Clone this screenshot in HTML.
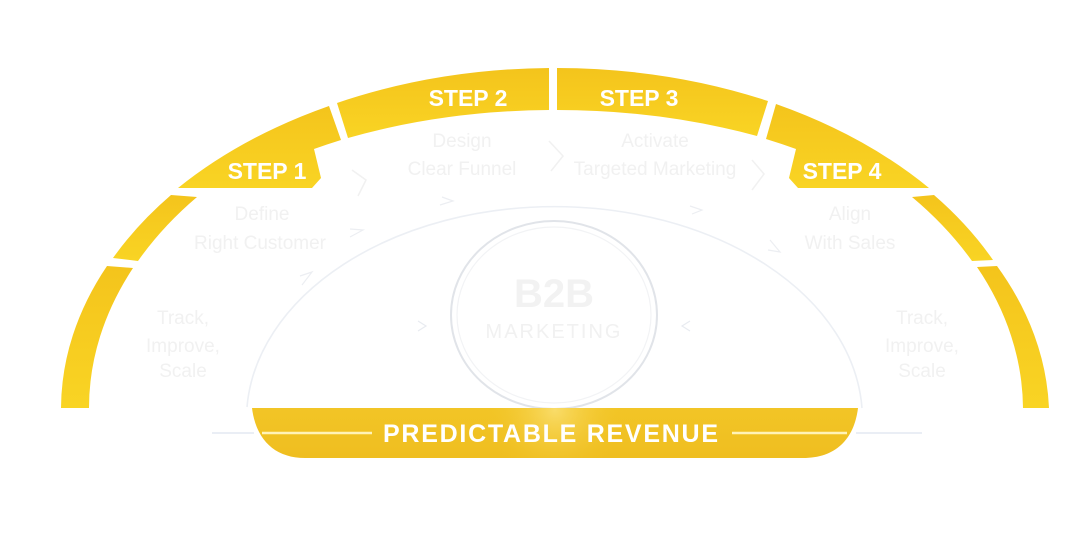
<!DOCTYPE html>
<html>
<head>
<meta charset="utf-8">
<style>
  html,body{margin:0;padding:0;background:#ffffff;}
  body{width:1080px;height:553px;overflow:hidden;}
  svg{display:block;}
  .lbl{font-family:"Liberation Sans",sans-serif;font-weight:bold;fill:#ffffff;}
  .faint{font-family:"Liberation Sans",sans-serif;fill:#f1f1f1;font-size:19px;}
</style>
</head>
<body>
<svg width="1080" height="553" viewBox="0 0 1080 553" xmlns="http://www.w3.org/2000/svg">
  <defs>
    <linearGradient id="ygrad" x1="0" y1="0" x2="0" y2="1">
      <stop offset="0" stop-color="#F4C41C"/>
      <stop offset="1" stop-color="#F9D424"/>
    </linearGradient>
    <linearGradient id="bandgrad" x1="0" y1="0" x2="0" y2="1">
      <stop offset="0" stop-color="#F2C526"/>
      <stop offset="1" stop-color="#EFBE20"/>
    </linearGradient>
    <radialGradient id="glow" cx="555" cy="410" r="70" gradientUnits="userSpaceOnUse">
      <stop offset="0" stop-color="#FBE27A" stop-opacity="0.8"/>
      <stop offset="1" stop-color="#F2C526" stop-opacity="0"/>
    </radialGradient>
    <linearGradient id="hl" x1="0" y1="0" x2="1" y2="0">
      <stop offset="0" stop-color="#d4dceb" stop-opacity="0.2"/>
      <stop offset="0.4" stop-color="#c9d3e6"/>
      <stop offset="1" stop-color="#dfe5ef" stop-opacity="0.3"/>
    </linearGradient>
    <linearGradient id="hr" x1="0" y1="0" x2="1" y2="0">
      <stop offset="0" stop-color="#dfe5ef" stop-opacity="0.3"/>
      <stop offset="0.6" stop-color="#c9d3e6"/>
      <stop offset="1" stop-color="#d4dceb" stop-opacity="0.2"/>
    </linearGradient>
  </defs>

  <!-- faint dome outline -->
  <path d="M 247,407 A 308 213 0 0 1 862,408" fill="none" stroke="#eceff4" stroke-width="1.6"/>

  <!-- faint horizontal connector lines -->
  <line x1="277" y1="326" x2="425" y2="326" stroke="url(#hl)" stroke-width="1.6"/>
  <line x1="690" y1="326" x2="830" y2="326" stroke="url(#hr)" stroke-width="1.6"/>
  <path d="M 418,321 L 426,326 L 418,331" fill="none" stroke="#e8ebf0" stroke-width="1.2"/>
  <path d="M 690,321 L 682,326 L 690,331" fill="none" stroke="#e8ebf0" stroke-width="1.2"/>

  <!-- faint arrows on dome -->
  <path d="M 302,285 L 312,272 L 300,276" fill="none" stroke="#eceef2" stroke-width="1.2"/>
  <path d="M 350,237 L 363,230 L 350,229" fill="none" stroke="#eceef2" stroke-width="1.2"/>
  <path d="M 440,205 L 453,201 L 442,197" fill="none" stroke="#eceef2" stroke-width="1.2"/>
  <path d="M 690,206 L 702,210 L 692,214" fill="none" stroke="#eceef2" stroke-width="1.2"/>
  <path d="M 770,240 L 780,252 L 768,250" fill="none" stroke="#eceef2" stroke-width="1.2"/>

  <!-- faint chevrons between steps -->
  <path d="M 549,141 L 563,156 L 551,171" fill="none" stroke="#f1f1f1" stroke-width="1.5"/>
  <path d="M 752,160 L 764,174 L 752,190" fill="none" stroke="#f1f1f1" stroke-width="1.5"/>
  <path d="M 352,170 L 366,180 L 358,196" fill="none" stroke="#f1f1f1" stroke-width="1.5"/>

  <!-- central circle -->
  <ellipse cx="554" cy="315" rx="103" ry="94" fill="#ffffff" stroke="#e1e4e9" stroke-width="2"/>
  <ellipse cx="554" cy="315" rx="97" ry="88" fill="none" stroke="#f2f3f5" stroke-width="1.2"/>
  <text x="554" y="307" text-anchor="middle" style="font-family:'Liberation Sans',sans-serif;font-weight:bold;font-size:40px;fill:#f2f2f2;">B2B</text>
  <text x="554" y="338" text-anchor="middle" style="font-family:'Liberation Sans',sans-serif;font-size:20px;letter-spacing:2px;fill:#f1f1f1;">MARKETING</text>

  <!-- faint step descriptions -->
  <text class="faint" x="262" y="220" text-anchor="middle">Define</text>
  <text class="faint" x="260" y="249" text-anchor="middle">Right Customer</text>
  <text class="faint" x="462" y="147" text-anchor="middle">Design</text>
  <text class="faint" x="462" y="175" text-anchor="middle">Clear Funnel</text>
  <text class="faint" x="655" y="147" text-anchor="middle">Activate</text>
  <text class="faint" x="655" y="175" text-anchor="middle">Targeted Marketing</text>
  <text class="faint" x="850" y="220" text-anchor="middle">Align</text>
  <text class="faint" x="850" y="249" text-anchor="middle">With Sales</text>
  <text class="faint" x="183" y="324" text-anchor="middle">Track,</text>
  <text class="faint" x="183" y="352" text-anchor="middle">Improve,</text>
  <text class="faint" x="183" y="377" text-anchor="middle">Scale</text>
  <text class="faint" x="922" y="324" text-anchor="middle">Track,</text>
  <text class="faint" x="922" y="352" text-anchor="middle">Improve,</text>
  <text class="faint" x="922" y="377" text-anchor="middle">Scale</text>

  <!-- arc segments -->
  <g fill="url(#ygrad)">
    <path d="M 61,408 A 494 340 0 0 1 107,266 L 133,268 A 466 330 0 0 0 89,408 Z"/>
    <path d="M 113,258 A 494 340 0 0 1 171,195 L 197,197 A 466 330 0 0 0 138,261 Z"/>
    <path d="M 178,188 A 494 340 0 0 1 329,106 L 341,140 A 490 298 0 0 0 314,149 L 321,178 L 312,188 Z"/>
    <path d="M 337,103 A 494 340 0 0 1 549,68 L 549,110 A 490 298 0 0 0 348,138 Z"/>
    <path d="M 557,68 A 494 340 0 0 1 768,101 L 757,136 A 490 298 0 0 0 557,110 Z"/>
    <path d="M 776,104 A 494 340 0 0 1 929,188 L 798,188 L 789,178 L 796,149 A 490 298 0 0 0 766,139 Z"/>
    <path d="M 934,195 A 494 340 0 0 1 993,260 L 972,261 A 466 330 0 0 0 912,197 Z"/>
    <path d="M 997,266 A 494 340 0 0 1 1049,408 L 1023,408 A 466 330 0 0 0 977,267 Z"/>
  </g>

  <!-- step labels -->
  <text class="lbl" x="267" y="179" text-anchor="middle" font-size="23">STEP 1</text>
  <text class="lbl" x="468" y="106" text-anchor="middle" font-size="23">STEP 2</text>
  <text class="lbl" x="639" y="106" text-anchor="middle" font-size="23">STEP 3</text>
  <text class="lbl" x="842" y="179" text-anchor="middle" font-size="23">STEP 4</text>

  <!-- faint extension lines beside band -->
  <line x1="212" y1="433" x2="254" y2="433" stroke="#e3e9f2" stroke-width="1.5"/>
  <line x1="856" y1="433" x2="922" y2="433" stroke="#e3e9f2" stroke-width="1.5"/>

  <!-- predictable revenue band -->
  <path d="M 252,408 L 858,408 C 854,440 835,458 803,458 L 305,458 C 275,458 256,440 252,408 Z" fill="url(#bandgrad)"/>
  <path d="M 252,408 L 858,408 C 854,440 835,458 803,458 L 305,458 C 275,458 256,440 252,408 Z" fill="url(#glow)"/>
  <line x1="262" y1="433" x2="372" y2="433" stroke="#FFF3B8" stroke-width="2.5"/>
  <line x1="732" y1="433" x2="847" y2="433" stroke="#FFF3B8" stroke-width="2.5"/>
  <text class="lbl" x="383" y="442" font-size="25" textLength="335" lengthAdjust="spacing">PREDICTABLE REVENUE</text>
</svg>
</body>
</html>
